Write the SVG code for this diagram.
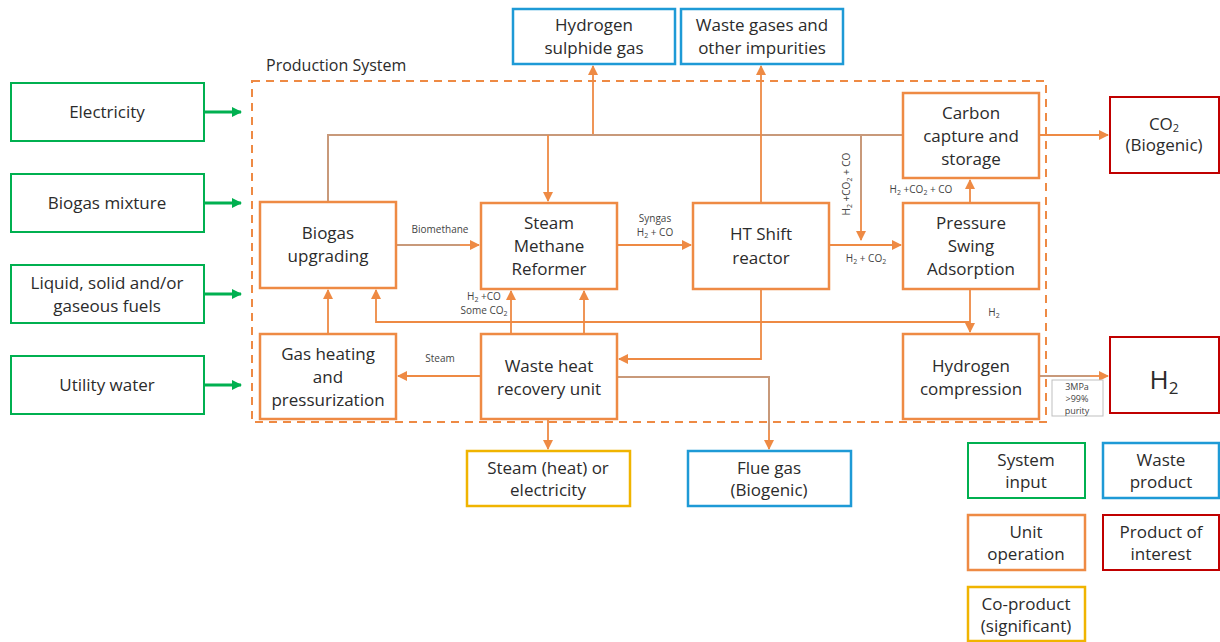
<svg xmlns="http://www.w3.org/2000/svg" width="1220" height="642" viewBox="0 0 1220 642">
<defs>
<marker id="ao" viewBox="0 0 10 10" refX="9" refY="5" markerWidth="10" markerHeight="10" markerUnits="userSpaceOnUse" orient="auto"><path d="M0,0 L10,5 L0,10 z" fill="#EE8A44"/></marker>
<marker id="ag" viewBox="0 0 10 10" refX="9" refY="5" markerWidth="10" markerHeight="10" markerUnits="userSpaceOnUse" orient="auto"><path d="M0,0 L10,5 L0,10 z" fill="#00B050"/></marker>
</defs>
<style>
text{font-family:"Open Sans","Noto Sans","Liberation Sans",sans-serif;fill:#2b2b2b;text-anchor:middle}
.t{font-size:17px}
.s{font-size:10px;fill:#444}
.p{font-size:9px;fill:#444}
.unit{fill:#fff;stroke:#EE8A44;stroke-width:2.5}
.in{fill:#fff;stroke:#00B050;stroke-width:2}
.waste{fill:#fff;stroke:#1E9AD6;stroke-width:2.5}
.prod{fill:#fff;stroke:#C00000;stroke-width:2}
.co{fill:#fff;stroke:#F0B400;stroke-width:2.5}
.c{fill:none;stroke:#EE8A44;stroke-width:1.8}
.cb{fill:none;stroke:#C8997A;stroke-width:2}
.g{fill:none;stroke:#00B050;stroke-width:3}
</style>
<rect width="1220" height="642" fill="#fff"/>

<g id="boundary">
<rect x="252" y="81" width="794" height="341" fill="none" stroke="#EE8A44" stroke-width="2" stroke-dasharray="8,6"/>
<text x="266" y="71" style="font-size:16px;text-anchor:start">Production System</text>
</g>

<g id="connectors">
<path class="g" d="M204,112 H241" marker-end="url(#ag)"/>
<path class="g" d="M204,203 H241" marker-end="url(#ag)"/>
<path class="g" d="M204,294 H241" marker-end="url(#ag)"/>
<path class="g" d="M204,385 H241" marker-end="url(#ag)"/>
<path class="cb" d="M328,202 V135 H593"/>
<path class="c" d="M593,135 V66" marker-end="url(#ao)"/>
<path class="cb" d="M903,135 H548"/>
<path class="c" d="M548,135 V201" marker-end="url(#ao)"/>
<path class="cb" d="M861,135 V200"/>
<path class="c" d="M861,200 V240" marker-end="url(#ao)"/>
<path class="c" d="M1039,135 H1108" marker-end="url(#ao)"/>
<path class="c" d="M970,203 V180" marker-end="url(#ao)"/>
<path class="cb" d="M396,245 H460"/>
<path class="c" d="M460,245 H479" marker-end="url(#ao)"/>
<path class="c" d="M617,245 H691" marker-end="url(#ao)"/>
<path class="c" d="M829,245 H901" marker-end="url(#ao)"/>
<path class="c" d="M761,203 V66" marker-end="url(#ao)"/>
<path class="c" d="M970,289 V332" marker-end="url(#ao)"/>
<path class="c" d="M970,322 H376 V290" marker-end="url(#ao)"/>
<path class="c" d="M328,334 V290" marker-end="url(#ao)"/>
<path class="c" d="M511,334 V291" marker-end="url(#ao)"/>
<path class="c" d="M584,334 V291" marker-end="url(#ao)"/>
<path class="c" d="M481,376 H398" marker-end="url(#ao)"/>
<path class="c" d="M761,289 V359 H619" marker-end="url(#ao)"/>
<path class="cb" d="M617,377 H769 V430"/>
<path class="c" d="M769,430 V449" marker-end="url(#ao)"/>
<path class="c" d="M548,419 V449" marker-end="url(#ao)"/>
<path class="cb" d="M1039,376 H1090"/>
<path class="c" d="M1090,376 H1108" marker-end="url(#ao)"/>
<text class="s" x="440" y="233">Biomethane</text>
<text class="s" x="655" y="222">Syngas</text>
<text class="s" x="655" y="236">H<tspan font-size="7" dy="1.5">2</tspan><tspan dy="-1.5"> + CO</tspan></text>
<text class="s" x="866" y="262">H<tspan font-size="7" dy="1.5">2</tspan><tspan dy="-1.5"> + CO</tspan><tspan font-size="7" dy="1.5">2</tspan></text>
<text class="s" x="921" y="193">H<tspan font-size="7" dy="1.5">2</tspan><tspan dy="-1.5"> +CO</tspan><tspan font-size="7" dy="1.5">2</tspan><tspan dy="-1.5"> + CO</tspan></text>
<text class="s" transform="translate(850,184) rotate(-90)">H<tspan font-size="7" dy="1.5">2</tspan><tspan dy="-1.5"> +CO</tspan><tspan font-size="7" dy="1.5">2</tspan><tspan dy="-1.5"> + CO</tspan></text>
<text class="s" x="994" y="316">H<tspan font-size="7" dy="1.5">2</tspan></text>
<text class="s" x="484" y="300">H<tspan font-size="7" dy="1.5">2</tspan><tspan dy="-1.5"> +CO</tspan></text>
<text class="s" x="484" y="314">Some CO<tspan font-size="7" dy="1.5">2</tspan></text>
<text class="s" x="440" y="362">Steam</text>
<rect x="1052" y="380" width="51" height="36" fill="#fff" stroke="#BFBFBF" stroke-width="1"/>
<text class="p" x="1077" y="390">3MPa</text>
<text class="p" x="1077" y="402">&gt;99%</text>
<text class="p" x="1077" y="414">purity</text>
</g>

<g id="electricity"><rect class="in" x="11" y="83" width="193" height="58"/><text class="t" x="107" y="118">Electricity</text></g>
<g id="biogas-mixture"><rect class="in" x="11" y="174" width="193" height="58"/><text class="t" x="107" y="209">Biogas mixture</text></g>
<g id="fuels"><rect class="in" x="11" y="265" width="193" height="58"/><text class="t" x="107" y="289">Liquid, solid and/or</text><text class="t" x="107" y="312">gaseous fuels</text></g>
<g id="utility-water"><rect class="in" x="11" y="356" width="193" height="58"/><text class="t" x="107" y="391">Utility water</text></g>

<g id="h2s"><rect class="waste" x="513" y="9" width="162" height="55"/><text class="t" x="594" y="31">Hydrogen</text><text class="t" x="594" y="54">sulphide gas</text></g>
<g id="waste-gases"><rect class="waste" x="681" y="9" width="162" height="55"/><text class="t" x="762" y="31">Waste gases and</text><text class="t" x="762" y="54">other impurities</text></g>

<g id="biogas-upgrading"><rect class="unit" x="260" y="202" width="136" height="86"/><text class="t" x="328" y="239">Biogas</text><text class="t" x="328" y="262">upgrading</text></g>
<g id="smr"><rect class="unit" x="481" y="203" width="136" height="86"/><text class="t" x="549" y="229">Steam</text><text class="t" x="549" y="252">Methane</text><text class="t" x="549" y="275">Reformer</text></g>
<g id="ht-shift"><rect class="unit" x="693" y="203" width="136" height="86"/><text class="t" x="761" y="240">HT Shift</text><text class="t" x="761" y="264">reactor</text></g>
<g id="psa"><rect class="unit" x="903" y="203" width="136" height="86"/><text class="t" x="971" y="229">Pressure</text><text class="t" x="971" y="252">Swing</text><text class="t" x="971" y="275">Adsorption</text></g>
<g id="ccs"><rect class="unit" x="903" y="93" width="136" height="85"/><text class="t" x="971" y="119">Carbon</text><text class="t" x="971" y="142">capture and</text><text class="t" x="971" y="165">storage</text></g>
<g id="gas-heating"><rect class="unit" x="260" y="334" width="136" height="85"/><text class="t" x="328" y="360">Gas heating</text><text class="t" x="328" y="383">and</text><text class="t" x="328" y="406">pressurization</text></g>
<g id="whru"><rect class="unit" x="481" y="334" width="136" height="85"/><text class="t" x="549" y="372">Waste heat</text><text class="t" x="549" y="395">recovery unit</text></g>
<g id="h2-compression"><rect class="unit" x="903" y="334" width="136" height="85"/><text class="t" x="971" y="372">Hydrogen</text><text class="t" x="971" y="395">compression</text></g>

<g id="co2"><rect class="prod" x="1110" y="97" width="109" height="76"/><text class="t" x="1164" y="130">CO<tspan font-size="11" dy="2">2</tspan></text><text class="t" x="1164" y="151">(Biogenic)</text></g>
<g id="h2"><rect class="prod" x="1110" y="337" width="109" height="76"/><text x="1164" y="389" style="font-size:26px">H<tspan font-size="17" dy="5">2</tspan></text></g>

<g id="steam-coproduct"><rect class="co" x="467" y="451" width="163" height="55"/><text class="t" x="548" y="474">Steam (heat) or</text><text class="t" x="548" y="496">electricity</text></g>
<g id="flue-gas"><rect class="waste" x="688" y="451" width="163" height="55"/><text class="t" x="769" y="474">Flue gas</text><text class="t" x="769" y="496">(Biogenic)</text></g>

<g id="legend">
<rect class="in" x="968" y="443" width="117" height="55"/><text class="t" x="1026" y="466">System</text><text class="t" x="1026" y="488">input</text>
<rect class="waste" x="1103" y="443" width="116" height="55"/><text class="t" x="1161" y="466">Waste</text><text class="t" x="1161" y="488">product</text>
<rect class="unit" x="968" y="515" width="117" height="55"/><text class="t" x="1026" y="538">Unit</text><text class="t" x="1026" y="560">operation</text>
<rect class="prod" x="1103" y="515" width="116" height="55"/><text class="t" x="1161" y="538">Product of</text><text class="t" x="1161" y="560">interest</text>
<rect class="co" x="968" y="587" width="117" height="54"/><text class="t" x="1026" y="610">Co-product</text><text class="t" x="1026" y="632">(significant)</text>
</g>
</svg>
